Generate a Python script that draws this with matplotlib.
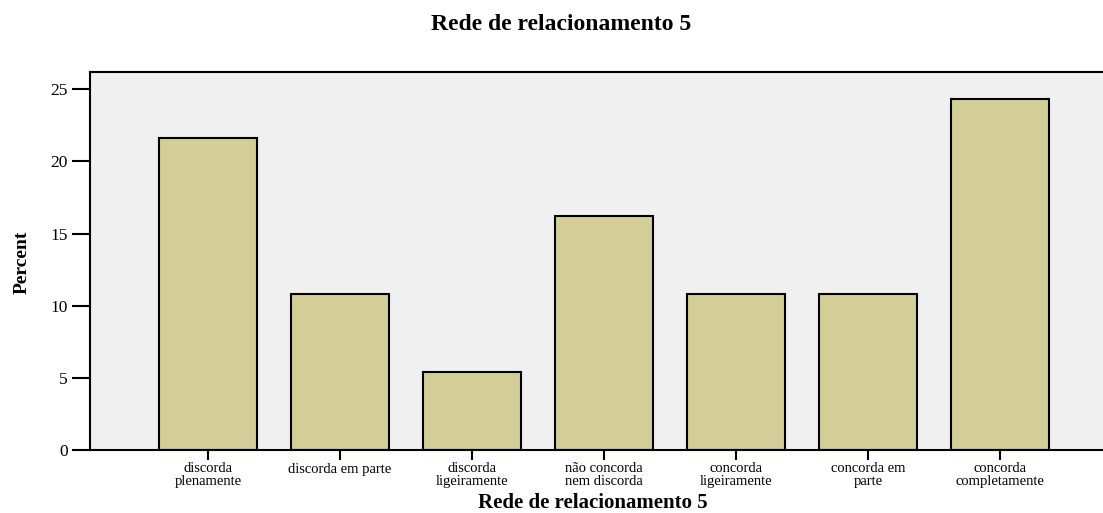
import numpy as np
import matplotlib.pyplot as plt

categories = ["discorda\nplenamente", "discorda em parte", "discorda\nligeiramente",
              "não concorda\nnem discorda", "concorda\nligeiramente", "concorda em\nparte",
              "concorda\ncompletamente"]
percent = [21.6, 10.8, 5.4, 16.2, 10.8, 10.8, 24.3]
yticks = [0, 5, 10, 15, 20, 25]

plt.rcParams['font.family'] = ['Liberation Serif', 'DejaVu Serif']

fig = plt.figure(figsize=(11.03, 5.13), dpi=100)
ax = fig.add_axes([90/1103, 63/513, 1028/1103, 378/513])
ax.set_facecolor('#f0f0f0')

x = np.arange(len(categories))
ax.bar(x, percent, width=0.74, color='#d3ce98', edgecolor='black', linewidth=1.5, zorder=2)

ax.set_xlim(-0.894, 6.894)
ax.set_ylim(0, 26.2)
ax.set_xticks(x)
ax.set_xticklabels(categories, fontsize=10.5, linespacing=0.95)
ax.set_yticks(yticks)
ax.set_yticklabels([str(v) for v in yticks], fontsize=12.5)
ax.tick_params(axis='x', length=7, width=1.5, pad=2)
ax.tick_params(axis='y', length=13, width=1.5, pad=3)
for s in ax.spines.values():
    s.set_linewidth(1.5)

ax.set_ylabel("Percent", fontsize=14, fontweight='bold')
ax.yaxis.set_label_coords(-0.058, 0.497)
ax.set_xlabel("Rede de relacionamento 5", fontsize=15, fontweight='bold')
ax.xaxis.set_label_coords((593 - 90) / 1028, -(503 - 450) / 378)
ax.xaxis.label.set_va('center')
fig.text(561/1103, 1 - 24/513, "Rede de relacionamento 5", fontsize=17, fontweight='bold',
         ha='center', va='center')

fig.savefig("out.png", dpi=100)
